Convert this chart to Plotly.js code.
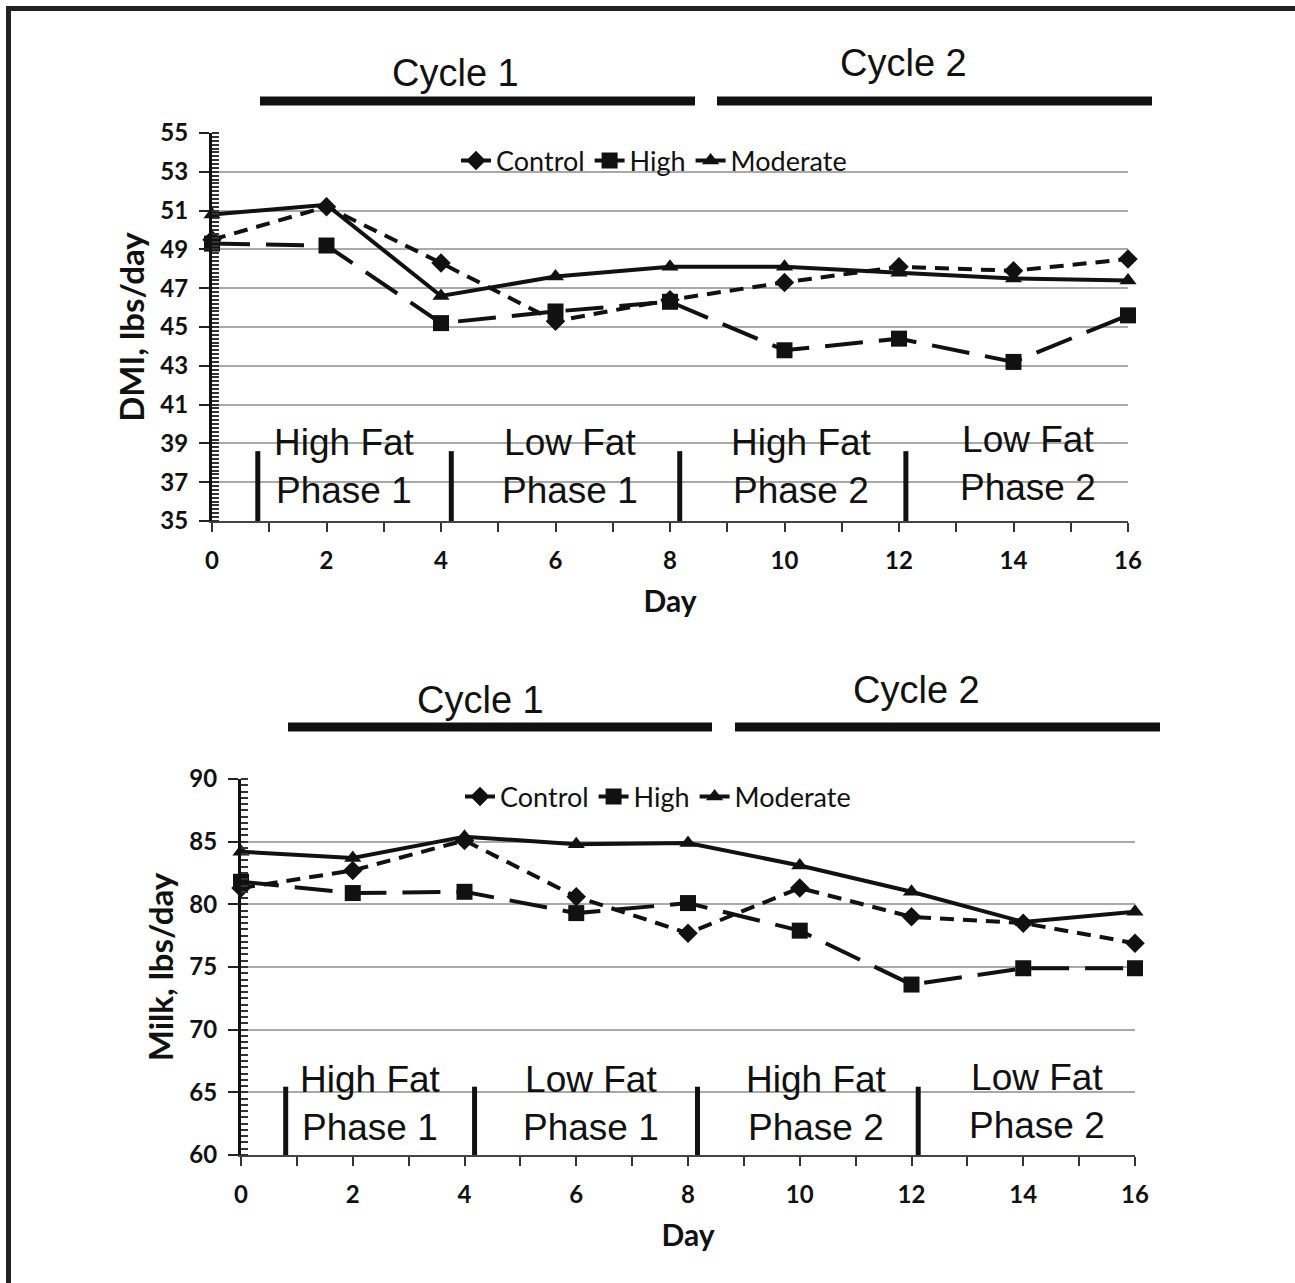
<!DOCTYPE html>
<html>
<head>
<meta charset="utf-8">
<script src="https://cdn.plot.ly/plotly-3.0.1.min.js"></script>
<style>
html,body{margin:0;padding:0;background:#fff;}
#chart{width:1295px;height:1283px;}
</style>
</head>
<body>
<div id="chart"></div>
<script>
// ---------- data ----------
const days = [0, 2, 4, 6, 8, 10, 12, 14, 16];
const seriesNames = ["Control", "High", "Moderate"];

// DMI, lbs/day
const dmiControl  = [49.5, 51.2, 48.3, 45.3, 46.4, 47.3, 48.1, 47.9, 48.5];
const dmiHigh     = [49.3, 49.2, 45.2, 45.8, 46.3, 43.8, 44.4, 43.2, 45.6];
const dmiModerate = [50.8, 51.3, 46.6, 47.6, 48.1, 48.1, 47.8, 47.5, 47.4];

// Milk, lbs/day
const milkControl  = [81.3, 82.7, 85.1, 80.6, 77.7, 81.3, 79.0, 78.5, 76.9];
const milkHigh     = [81.8, 80.9, 81.0, 79.3, 80.1, 77.9, 73.6, 74.9, 74.9];
const milkModerate = [84.2, 83.7, 85.4, 84.8, 84.9, 83.1, 81.0, 78.6, 79.4];

const xTickVals = [0, 2, 4, 6, 8, 10, 12, 14, 16];
const dmiTickVals = [35, 37, 39, 41, 43, 45, 47, 49, 51, 53, 55];
const milkTickVals = [60, 65, 70, 75, 80, 85, 90];
const phaseLabels = ["High Fat<br>Phase 1", "Low Fat<br>Phase 1", "High Fat<br>Phase 2", "Low Fat<br>Phase 2"];
const cycleLabels = ["Cycle 1", "Cycle 2"];

// ---------- layout helpers ----------
const W = 1295, H = 1283;
const px = x => x / W;
const py = y => 1 - y / H;

const styles = {
  Control:  {dash: "14px,9px",  symbol: "diamond",     size: 15},
  High:     {dash: "38px,16px", symbol: "square",      size: 16},
  Moderate: {dash: "solid",     symbol: "triangle-up", size: 15}
};

function mkTrace(name, y, xa, ya, legendId) {
  const s = styles[name];
  return {
    x: days, y: y, name: name, type: "scatter", mode: "lines+markers",
    xaxis: xa, yaxis: ya, legend: legendId, cliponaxis: false,
    line: {color: "#111", width: 4, dash: s.dash},
    marker: {color: "#111", symbol: s.symbol, size: s.size, line: {width: 0}}
  };
}

const traces = [
  mkTrace("Control", dmiControl, "x", "y", "legend"),
  mkTrace("High", dmiHigh, "x", "y", "legend"),
  mkTrace("Moderate", dmiModerate, "x", "y", "legend"),
  mkTrace("Control", milkControl, "x2", "y2", "legend2"),
  mkTrace("High", milkHigh, "x2", "y2", "legend2"),
  mkTrace("Moderate", milkModerate, "x2", "y2", "legend2")
];

const tickFont = {family: "Lato, 'Open Sans', sans-serif", size: 24, color: "#111", weight: 700};
const titleFont = {family: "Lato, 'Open Sans', sans-serif", size: 33, color: "#111", weight: 700};
const dayFont = {family: "Lato, 'Open Sans', sans-serif", size: 30, color: "#111", weight: 700};
const narrow = "'Liberation Sans', Arial, sans-serif";

function xAxis(domain, anchor) {
  return {
    domain: domain, anchor: anchor, range: [0, 16], tickvals: xTickVals,
    ticks: "outside", ticklen: 9, tickwidth: 2, tickcolor: "#333",
    minor: {dtick: 1, ticks: "outside", ticklen: 9, tickwidth: 2, tickcolor: "#333", showgrid: false},
    showline: true, linecolor: "#444", linewidth: 2, showgrid: false, zeroline: false,
    tickfont: tickFont, ticklabelstandoff: 8, automargin: false,
    title: {text: "Day", font: dayFont, standoff: 18}
  };
}
function yAxis(domain, anchor, range, tickvals, minorStep, title) {
  return {
    domain: domain, anchor: anchor, range: range, tickvals: tickvals,
    ticks: "outside", ticklen: 10, tickwidth: 2, tickcolor: "#222",
    minor: {dtick: minorStep, ticks: "inside", ticklen: 7, tickwidth: 2, tickcolor: "#333", showgrid: false},
    showline: true, linecolor: "#111", linewidth: 3,
    showgrid: true, gridcolor: "#a9a9a9", gridwidth: 2, zeroline: false,
    tickfont: tickFont, ticklabelstandoff: 6, automargin: false,
    title: {text: title, font: titleFont, standoff: 6}
  };
}

const shapes = [];
const annotations = [];

// frame (top and left edges of the figure border)
shapes.push({type: "line", xref: "paper", yref: "paper", x0: px(6), x1: 1, y0: py(8.5), y1: py(8.5), line: {color: "#222", width: 5}});
shapes.push({type: "line", xref: "paper", yref: "paper", x0: px(8.5), x1: px(8.5), y0: py(6), y1: 0, line: {color: "#222", width: 5}});

// phase dividers and labels
const phaseBounds = [0.8, 4.18, 8.17, 12.12];
const phaseCenters = [2.32, 6.26, 10.3, 14.25];
function phases(xa, ya, yBase, yTop, yText) {
  phaseBounds.forEach(b => shapes.push({type: "line", xref: xa, yref: ya, x0: b, x1: b, y0: yBase, y1: yTop, line: {color: "#111", width: 5}}));
  phaseCenters.forEach((c, i) => annotations.push({
    xref: xa, yref: ya, x: c, y: yText[i], text: phaseLabels[i], showarrow: false,
    font: {family: narrow, size: 37, color: "#111"}, xanchor: "center", yanchor: "middle"
  }));
}
phases("x", "y", 35, 38.6, [37.8, 37.8, 37.8, 37.95]);
phases("x2", "y2", 60, 65.45, [64.1, 64.1, 64.1, 64.3]);

// cycle bars and labels
function cycles(segs, yBar, labels) {
  segs.forEach(s => shapes.push({type: "line", xref: "paper", yref: "paper", x0: px(s[0]), x1: px(s[1]), y0: py(yBar), y1: py(yBar), line: {color: "#111", width: 9}}));
  labels.forEach((l, i) => annotations.push({
    xref: "paper", yref: "paper", x: px(l[0]), y: py(l[1]), text: cycleLabels[i], showarrow: false,
    font: {family: narrow, size: 38, color: "#111"}, xanchor: "center", yanchor: "middle"
  }));
}
cycles([[260, 695], [717, 1152]], 101, [[455, 73], [903, 63]]);
cycles([[288, 712], [735, 1160]], 727, [[480, 700], [916, 690]]);

const legendFont = {family: "Lato, 'Open Sans', sans-serif", size: 27, color: "#111"};
const layout = {
  width: W, height: H,
  margin: {l: 0, r: 0, t: 0, b: 0},
  paper_bgcolor: "#fff", plot_bgcolor: "#fff",
  xaxis: xAxis([px(212), px(1128)], "y"),
  yaxis: yAxis([py(521), py(133)], "x", [35, 55], dmiTickVals, 0.2, "DMI, lbs/day"),
  xaxis2: xAxis([px(241), px(1135)], "y2"),
  yaxis2: yAxis([py(1155), py(779)], "x2", [60, 90], milkTickVals, 0.5, "Milk, lbs/day"),
  legend: {orientation: "h", x: px(654), y: py(161), xanchor: "center", yanchor: "middle",
           font: legendFont, bgcolor: "rgba(0,0,0,0)", itemwidth: 30, tracegroupgap: 0},
  legend2: {orientation: "h", x: px(658), y: py(797), xanchor: "center", yanchor: "middle",
            font: legendFont, bgcolor: "rgba(0,0,0,0)", itemwidth: 30, tracegroupgap: 0},
  shapes: shapes,
  annotations: annotations,
  showlegend: true
};

Plotly.newPlot("chart", traces, layout, {displayModeBar: false, staticPlot: true});
</script>
</body>
</html>
